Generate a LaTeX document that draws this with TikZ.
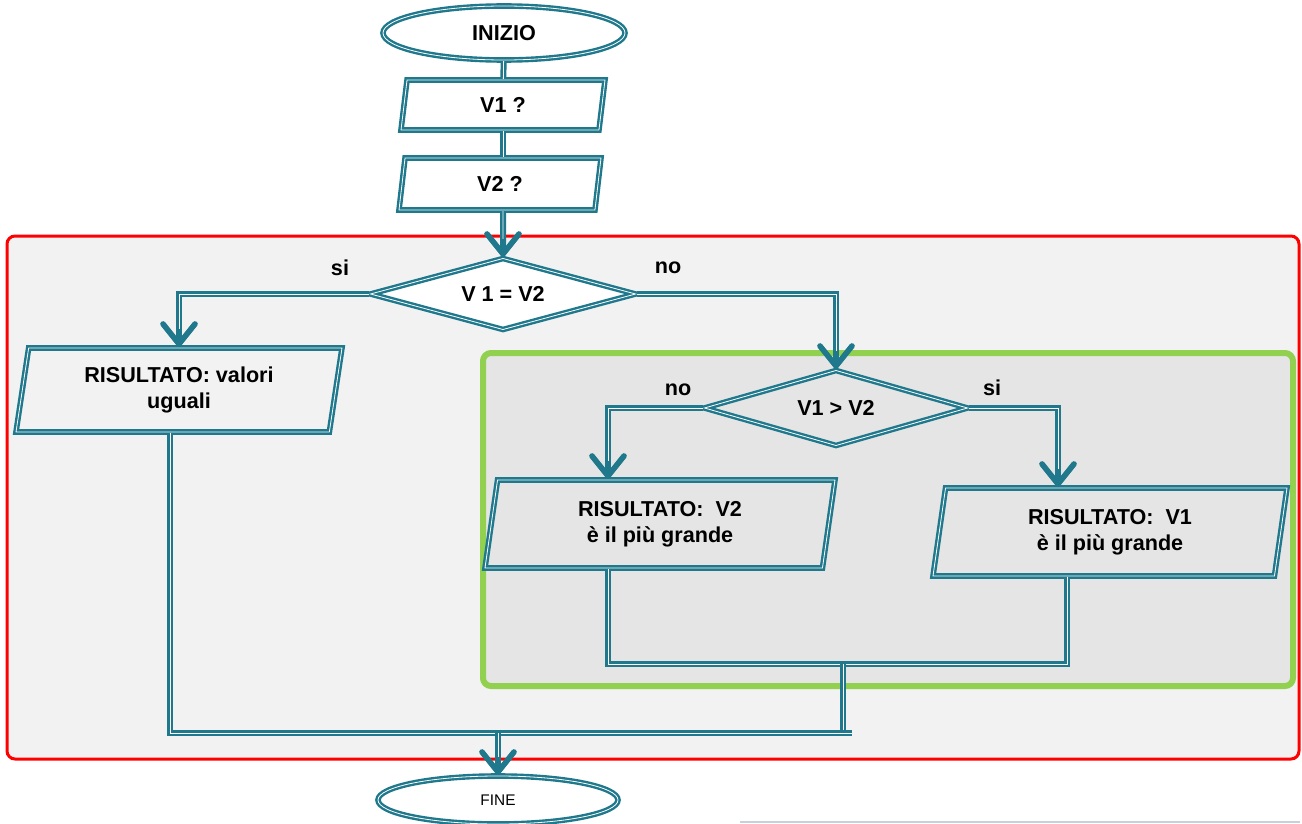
\documentclass[tikz,border=0pt]{standalone}
\usepackage{fontspec}
\setmainfont{Liberation Sans}
\usetikzlibrary{arrows.meta, shapes.geometric}

\definecolor{flow}{RGB}{31,120,140}
\definecolor{outerbg}{HTML}{F2F2F2}
\definecolor{innerbg}{HTML}{E5E5E5}
\definecolor{leafgreen}{HTML}{92D050}

\begin{document}
\begin{tikzpicture}[x=0.5pt,y=-0.5pt,>={Straight Barb[length=10pt,width=16pt,line width=2.8pt,round]},
      every node/.style={font=\fontsize{10.8}{13}\selectfont\bfseries},
      box/.style={draw=flow,double=white,double distance=0.4pt,line width=1.2pt},
      terminal/.style={box,ellipse,fill=white},
      io/.style={box,trapezium,trapezium left angle=78,trapezium right angle=102,trapezium stretches body,align=center},
      test/.style={box,diamond,aspect=3.5,inner sep=0pt},
      link/.style={draw=flow,line width=3pt,postaction={draw=white,line width=0.4pt}},
      flowarrow/.style={draw=flow,line width=3pt,->,postaction={draw=white,line width=0.4pt,arrows=-,shorten >=9pt}}]
      \useasboundingbox (0,0) rectangle (1302,824);
      % frames
      \draw[red,line width=1.5pt,rounded corners=4pt,fill=outerbg] (7,236) rectangle (1299,759);
      \draw[leafgreen,line width=3pt,rounded corners=4pt,fill=innerbg] (483,353) rectangle (1293,686);
      \draw[color={rgb,255:red,200;green,208;blue,220},line width=0.8pt] (740,822) -- (1300,822);

      \node[terminal,minimum width=121pt,minimum height=27pt] (start) at (504,33) {INIZIO};
      \node[io,minimum width=102pt,minimum height=25pt] (v_1) at (503,105) {V1 ?};
      \node[io,minimum width=101pt,minimum height=26pt] (v_2) at (500,184) {V2 ?};
      \node[test,fill=white,minimum width=133pt,minimum height=36pt] (d_1) at (503,294) {V 1 = V2};
      \node[io,minimum width=163pt,minimum height=42pt] (r_0) at (179,390) {RISULTATO: valori\\uguali};
      \node[test,minimum width=132pt,minimum height=38pt] (d_2) at (836,408) {V1 > V2};
      \node[io,minimum width=175pt,minimum height=44pt] (r_2) at (660,524) {RISULTATO:\ \ V2\\è il più grande};
      \node[io,minimum width=177pt,minimum height=44pt] (r_1) at (1110,532) {RISULTATO:\ \ V1\\è il più grande};
      \node[terminal,minimum width=120pt,minimum height=24pt,font=\fontsize{7.7}{9}\selectfont] (stop) at (498,800) {FINE};

      \node (yes_1) at (340,268) {si};
      \node (no_1) at (668,268) {no};
      \node (no_2) at (678,390) {no};
      \node (yes_2) at (992,388) {si};

      \coordinate (a_2) at (608,0);
      \coordinate (a_1) at (1058,0);
      \coordinate (b_1) at (1067,0);
      \coordinate (b_0) at (170,0);
      \coordinate (j_1) at (843,664);
      \coordinate (j_2) at (852,733);

      \path[link] (start) -- (v_1);
      \path[link] (v_1.south) -- (v_1.south |- v_2.north);
      \path[flowarrow] (v_1.south |- v_2.south) -- (d_1.north);
      \path[flowarrow] (d_1.west) -| (r_0.north);
      \path[flowarrow] (d_1.east) -| (d_2.north);
      \path[flowarrow] (d_2.west) -| (a_2 |- r_2.north);
      \path[flowarrow] (d_2.east) -| (a_1 |- r_1.north);
      \path[link] (a_2 |- r_2.south) |- (j_1);
      \path[link] (b_1 |- r_1.south) |- (j_1);
      \path[link] (j_1) -- (j_1 |- j_2);
      \path[link] (b_0 |- r_0.south) |- (j_2);
      \path[flowarrow] (stop.north |- j_2) -- (stop);
    \end{tikzpicture}
\end{document}
